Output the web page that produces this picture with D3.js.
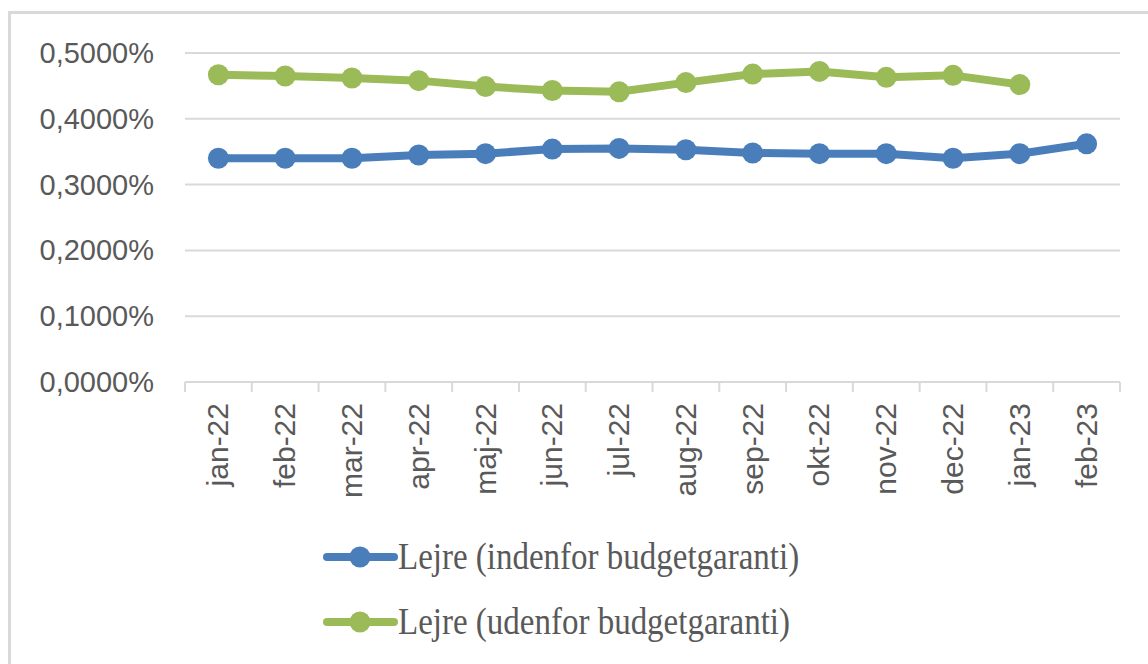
<!DOCTYPE html>
<html>
<head>
<meta charset="utf-8">
<script src="https://cdn.jsdelivr.net/npm/d3@7"></script>
<style>
  body { margin: 0; background: #fff; }
  svg { display: block; }
</style>
</head>
<body>
<svg id="chart"></svg>
<script>
// values in percent
const months = ["jan-22", "feb-22", "mar-22", "apr-22", "maj-22", "jun-22", "jul-22",
                "aug-22", "sep-22", "okt-22", "nov-22", "dec-22", "jan-23", "feb-23"];
const indenfor = [0.340, 0.340, 0.340, 0.345, 0.347, 0.354, 0.355,
                  0.353, 0.348, 0.347, 0.347, 0.340, 0.347, 0.362];
const udenfor = [0.467, 0.465, 0.462, 0.458, 0.449, 0.443, 0.441,
                 0.455, 0.468, 0.472, 0.463, 0.466, 0.452, null];
const yTicks = [0, 0.1, 0.2, 0.3, 0.4, 0.5];
const seriesNames = ["Lejre (indenfor budgetgaranti)", "Lejre (udenfor budgetgaranti)"];

const width = 1148, height = 664;
const svg = d3.select("#chart").attr("width", width).attr("height", height);

// chart frame
svg.append("rect")
  .attr("x", 9.5).attr("y", 12.5)
  .attr("width", width + 20).attr("height", height + 20)
  .attr("fill", "none").attr("stroke", "#d9d9d9").attr("stroke-width", 3);

const x = d3.scaleBand().domain(months).range([185, 1120]).padding(0);
const y = d3.scaleLinear().domain([0, 0.5]).range([382, 53]);

const textColor = "#595959";

// gridlines
svg.append("g")
  .selectAll("line")
  .data(yTicks.filter(d => d > 0))
  .join("line")
  .attr("x1", 185).attr("x2", 1120)
  .attr("y1", d => y(d)).attr("y2", d => y(d))
  .attr("stroke", "#d9d9d9").attr("stroke-width", 2);

// y labels
svg.append("g")
  .selectAll("text")
  .data(yTicks)
  .join("text")
  .attr("x", 154)
  .attr("y", d => y(d) + 10)
  .attr("text-anchor", "end")
  .attr("font-family", "Liberation Sans, Arial, sans-serif")
  .attr("font-size", 29)
  .attr("fill", textColor)
  .text(d => d.toFixed(4).replace(".", ",") + "%");

// x axis
const xAxis = svg.append("g");
xAxis.append("line")
  .attr("x1", 185).attr("x2", 1120)
  .attr("y1", 382).attr("y2", 382)
  .attr("stroke", "#d9d9d9").attr("stroke-width", 2);
const edges = months.map(m => x(m)).concat([x.range()[1]]);
xAxis.selectAll(".tick")
  .data(edges)
  .join("line")
  .attr("x1", d => d).attr("x2", d => d)
  .attr("y1", 382).attr("y2", 392)
  .attr("stroke", "#d9d9d9").attr("stroke-width", 2);
xAxis.selectAll("text")
  .data(months)
  .join("text")
  .attr("transform", d => `translate(${x(d) + x.bandwidth() / 2 + 10},403) rotate(-90)`)
  .attr("text-anchor", "end")
  .attr("font-family", "Liberation Sans, Arial, sans-serif")
  .attr("font-size", 30)
  .attr("fill", textColor)
  .text(d => d);

const colors = ["#4a7ebb", "#9bbb59"];
const allSeries = [indenfor, udenfor];

const line = d3.line()
  .defined(d => d != null)
  .x((d, i) => x(months[i]) + x.bandwidth() / 2)
  .y(d => y(d));

allSeries.forEach((vals, s) => {
  const g = svg.append("g");
  g.append("path")
    .datum(vals)
    .attr("d", line)
    .attr("fill", "none")
    .attr("stroke", colors[s])
    .attr("stroke-width", 8)
    .attr("stroke-linejoin", "round")
    .attr("stroke-linecap", "round");
  g.selectAll("circle")
    .data(vals.map((v, i) => ({ v, i })).filter(d => d.v != null))
    .join("circle")
    .attr("cx", d => x(months[d.i]) + x.bandwidth() / 2)
    .attr("cy", d => y(d.v))
    .attr("r", 10.5)
    .attr("fill", colors[s]);
});

// legend
const legend = svg.append("g");
seriesNames.forEach((name, s) => {
  const ly = 557 + s * 65;
  legend.append("line")
    .attr("x1", 327).attr("x2", 394)
    .attr("y1", ly).attr("y2", ly)
    .attr("stroke", colors[s]).attr("stroke-width", 8)
    .attr("stroke-linecap", "round");
  legend.append("circle")
    .attr("cx", 360).attr("cy", ly).attr("r", 10.5)
    .attr("fill", colors[s]);
  legend.append("text")
    .attr("transform", `translate(398,${ly + 12}) scale(1,1.15)`)
    .attr("font-family", "Liberation Serif, Times New Roman, serif")
    .attr("font-size", 33)
    .attr("fill", textColor)
    .text(name);
});
</script>
</body>
</html>
